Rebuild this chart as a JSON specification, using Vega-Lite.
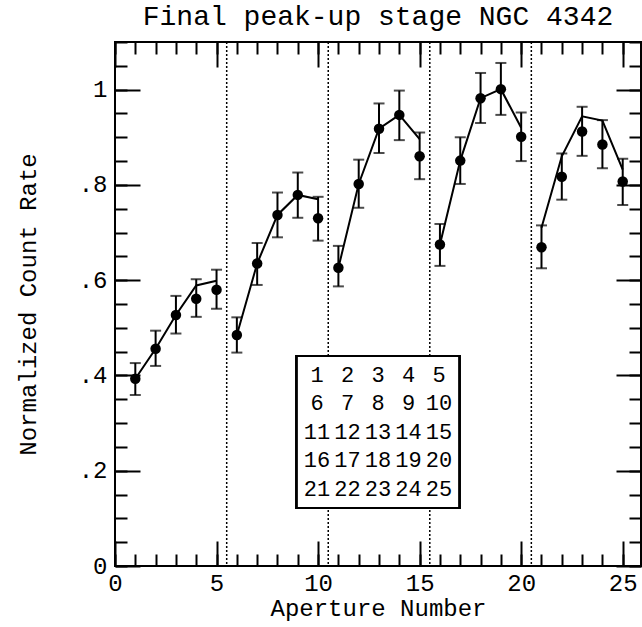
{
  "$schema": "https://vega.github.io/schema/vega-lite/v6.json",
  "width": 526,
  "height": 524,
  "autosize": "none",
  "padding": {"left": 115, "top": 42, "right": 1, "bottom": 61},
  "background": "white",
  "title": {
    "text": "Final peak-up stage NGC 4342",
    "font": "Liberation Mono",
    "fontSize": 28,
    "fontWeight": "normal",
    "color": "black",
    "anchor": "middle",
    "offset": 10
  },
  "config": {
    "view": {"stroke": "black", "strokeWidth": 2},
    "axis": {
      "grid": false,
      "domain": false,
      "labelFont": "Liberation Mono",
      "labelFontSize": 24,
      "labelFontWeight": "normal",
      "labelColor": "black",
      "titleFont": "Liberation Mono",
      "titleFontSize": 24,
      "titleFontWeight": "normal",
      "titleColor": "black",
      "tickColor": "black",
      "tickWidth": 2,
      "labelOverlap": false,
      "labelFlush": false
    }
  },
  "datasets": {
    "pts": [
      {"ap": 1, "rate": 0.393, "lo": 0.359, "hi": 0.426, "model": 0.393, "grp": 1},
      {"ap": 2, "rate": 0.456, "lo": 0.420, "hi": 0.494, "model": 0.456, "grp": 1},
      {"ap": 3, "rate": 0.527, "lo": 0.488, "hi": 0.567, "model": 0.527, "grp": 1},
      {"ap": 4, "rate": 0.561, "lo": 0.523, "hi": 0.602, "model": 0.589, "grp": 1},
      {"ap": 5, "rate": 0.580, "lo": 0.540, "hi": 0.622, "model": 0.599, "grp": 1},
      {"ap": 6, "rate": 0.485, "lo": 0.448, "hi": 0.522, "model": 0.485, "grp": 2},
      {"ap": 7, "rate": 0.635, "lo": 0.590, "hi": 0.678, "model": 0.635, "grp": 2},
      {"ap": 8, "rate": 0.737, "lo": 0.690, "hi": 0.784, "model": 0.737, "grp": 2},
      {"ap": 9, "rate": 0.779, "lo": 0.731, "hi": 0.826, "model": 0.779, "grp": 2},
      {"ap": 10, "rate": 0.730, "lo": 0.683, "hi": 0.775, "model": 0.770, "grp": 2},
      {"ap": 11, "rate": 0.626, "lo": 0.587, "hi": 0.672, "model": 0.626, "grp": 3},
      {"ap": 12, "rate": 0.802, "lo": 0.752, "hi": 0.853, "model": 0.802, "grp": 3},
      {"ap": 13, "rate": 0.918, "lo": 0.867, "hi": 0.971, "model": 0.918, "grp": 3},
      {"ap": 14, "rate": 0.947, "lo": 0.894, "hi": 0.998, "model": 0.947, "grp": 3},
      {"ap": 15, "rate": 0.860, "lo": 0.812, "hi": 0.910, "model": 0.896, "grp": 3},
      {"ap": 16, "rate": 0.675, "lo": 0.630, "hi": 0.718, "model": 0.675, "grp": 4},
      {"ap": 17, "rate": 0.851, "lo": 0.802, "hi": 0.900, "model": 0.851, "grp": 4},
      {"ap": 18, "rate": 0.982, "lo": 0.930, "hi": 1.035, "model": 0.982, "grp": 4},
      {"ap": 19, "rate": 1.001, "lo": 0.947, "hi": 1.056, "model": 1.001, "grp": 4},
      {"ap": 20, "rate": 0.901, "lo": 0.850, "hi": 0.952, "model": 0.920, "grp": 4},
      {"ap": 21, "rate": 0.669, "lo": 0.625, "hi": 0.715, "model": 0.710, "grp": 5},
      {"ap": 22, "rate": 0.817, "lo": 0.769, "hi": 0.866, "model": 0.860, "grp": 5},
      {"ap": 23, "rate": 0.912, "lo": 0.861, "hi": 0.964, "model": 0.944, "grp": 5},
      {"ap": 24, "rate": 0.885, "lo": 0.835, "hi": 0.936, "model": 0.935, "grp": 5},
      {"ap": 25, "rate": 0.807, "lo": 0.758, "hi": 0.855, "model": 0.832, "grp": 5}
    ],
    "bounds": [{"b": 5.5}, {"b": 10.5}, {"b": 15.5}, {"b": 20.5}],
    "grid": [
      {"n": "1", "col": 1, "row": 1}, {"n": "2", "col": 2, "row": 1}, {"n": "3", "col": 3, "row": 1}, {"n": "4", "col": 4, "row": 1}, {"n": "5", "col": 5, "row": 1},
      {"n": "6", "col": 1, "row": 2}, {"n": "7", "col": 2, "row": 2}, {"n": "8", "col": 3, "row": 2}, {"n": "9", "col": 4, "row": 2}, {"n": "10", "col": 5, "row": 2},
      {"n": "11", "col": 1, "row": 3}, {"n": "12", "col": 2, "row": 3}, {"n": "13", "col": 3, "row": 3}, {"n": "14", "col": 4, "row": 3}, {"n": "15", "col": 5, "row": 3},
      {"n": "16", "col": 1, "row": 4}, {"n": "17", "col": 2, "row": 4}, {"n": "18", "col": 3, "row": 4}, {"n": "19", "col": 4, "row": 4}, {"n": "20", "col": 5, "row": 4},
      {"n": "21", "col": 1, "row": 5}, {"n": "22", "col": 2, "row": 5}, {"n": "23", "col": 3, "row": 5}, {"n": "24", "col": 4, "row": 5}, {"n": "25", "col": 5, "row": 5}
    ]
  },
  "layer": [
    {
      "layer": [
        {
          "data": {"name": "bounds"},
          "mark": {"type": "rule", "color": "black", "strokeWidth": 1.5, "strokeDash": [2, 2]},
          "encoding": {
            "x": {"field": "b", "type": "quantitative", "scale": {"domain": [0, 25.9], "nice": false, "zero": false}, "axis": null}
          }
        },
        {
          "data": {"name": "pts"},
          "mark": {"type": "rule", "color": "black", "strokeWidth": 2},
          "encoding": {
            "x": {"field": "ap", "type": "quantitative", "scale": {"domain": [0, 25.9], "nice": false, "zero": false},
              "axis": {"orient": "bottom", "values": [0, 5, 10, 15, 20, 25], "ticks": false, "labelPadding": 5, "title": "Aperture Number", "titlePadding": 1}},
            "y": {"field": "lo", "type": "quantitative", "scale": {"domain": [0, 1.1], "nice": false, "zero": false},
              "axis": {"orient": "left", "values": [0, 0.2, 0.4, 0.6, 0.8, 1], "ticks": false, "labelPadding": 8,
                "labelExpr": "datum.value == 0 ? '0' : datum.value == 1 ? '1' : replace(format(datum.value, '.1f'), '0.', '.')",
                "title": "Normalized Count Rate", "titlePadding": 38}},
            "y2": {"field": "hi"}
          }
        },
        {
          "data": {"name": "pts"},
          "mark": {"type": "tick", "orient": "horizontal", "color": "black", "size": 11, "thickness": 2},
          "encoding": {
            "x": {"field": "ap", "type": "quantitative", "scale": {"domain": [0, 25.9], "nice": false, "zero": false},
              "axis": {"orient": "bottom", "values": [0, 5, 10, 15, 20, 25], "tickSize": -25, "labels": false, "title": null}},
            "y": {"field": "lo", "type": "quantitative", "scale": {"domain": [0, 1.1], "nice": false, "zero": false},
              "axis": {"orient": "left", "values": [0, 0.2, 0.4, 0.6, 0.8, 1], "tickSize": -25, "labels": false, "title": null}}
          }
        },
        {
          "data": {"name": "pts"},
          "mark": {"type": "tick", "orient": "horizontal", "color": "black", "size": 11, "thickness": 2},
          "encoding": {
            "x": {"field": "ap", "type": "quantitative", "scale": {"domain": [0, 25.9], "nice": false, "zero": false},
              "axis": {"orient": "bottom", "values": [0, 1, 2, 3, 4, 5, 6, 7, 8, 9, 10, 11, 12, 13, 14, 15, 16, 17, 18, 19, 20, 21, 22, 23, 24, 25], "tickSize": -12, "labels": false, "title": null}},
            "y": {"field": "hi", "type": "quantitative", "scale": {"domain": [0, 1.1], "nice": false, "zero": false},
              "axis": {"orient": "left", "values": [0, 0.05, 0.1, 0.15, 0.2, 0.25, 0.3, 0.35, 0.4, 0.45, 0.5, 0.55, 0.6, 0.65, 0.7, 0.75, 0.8, 0.85, 0.9, 0.95, 1, 1.05, 1.1], "tickSize": -12, "labels": false, "title": null}}
          }
        },
        {
          "data": {"name": "pts"},
          "mark": {"type": "line", "color": "black", "strokeWidth": 2},
          "encoding": {
            "x": {"field": "ap", "type": "quantitative", "scale": {"domain": [0, 25.9], "nice": false, "zero": false},
              "axis": {"orient": "top", "values": [0, 5, 10, 15, 20, 25], "tickSize": -25, "labels": false, "title": null}},
            "y": {"field": "model", "type": "quantitative", "scale": {"domain": [0, 1.1], "nice": false, "zero": false},
              "axis": {"orient": "right", "values": [0, 0.2, 0.4, 0.6, 0.8, 1], "tickSize": -25, "labels": false, "title": null}},
            "detail": {"field": "grp", "type": "nominal"}
          }
        },
        {
          "data": {"name": "pts"},
          "mark": {"type": "point", "filled": true, "color": "black", "size": 110, "opacity": 1},
          "encoding": {
            "x": {"field": "ap", "type": "quantitative", "scale": {"domain": [0, 25.9], "nice": false, "zero": false},
              "axis": {"orient": "top", "values": [0, 1, 2, 3, 4, 5, 6, 7, 8, 9, 10, 11, 12, 13, 14, 15, 16, 17, 18, 19, 20, 21, 22, 23, 24, 25], "tickSize": -12, "labels": false, "title": null}},
            "y": {"field": "rate", "type": "quantitative", "scale": {"domain": [0, 1.1], "nice": false, "zero": false},
              "axis": {"orient": "right", "values": [0, 0.05, 0.1, 0.15, 0.2, 0.25, 0.3, 0.35, 0.4, 0.45, 0.5, 0.55, 0.6, 0.65, 0.7, 0.75, 0.8, 0.85, 0.9, 0.95, 1, 1.05, 1.1], "tickSize": -12, "labels": false, "title": null}}
          }
        }
      ],
      "resolve": {"axis": {"x": "independent", "y": "independent"}}
    },
    {
      "data": {"name": "grid"},
      "layer": [
        {
          "mark": {"type": "rect", "fill": "white", "stroke": "black", "strokeWidth": 2},
          "encoding": {
            "x": {"datum": 0.34, "type": "quantitative", "scale": {"domain": [-5.623, 11.623], "nice": false, "zero": false}, "axis": null},
            "x2": {"datum": 5.66},
            "y": {"datum": 0.33, "type": "quantitative", "scale": {"domain": [-10.684, 7.702], "nice": false, "zero": false, "reverse": true}, "axis": null},
            "y2": {"datum": 5.67}
          }
        },
        {
          "mark": {"type": "text", "font": "Liberation Mono", "fontSize": 22, "fontWeight": "normal", "color": "black", "align": "center", "baseline": "middle"},
          "encoding": {
            "x": {"field": "col", "type": "quantitative", "scale": {"domain": [-5.623, 11.623], "nice": false, "zero": false}, "axis": null},
            "y": {"field": "row", "type": "quantitative", "scale": {"domain": [-10.684, 7.702], "nice": false, "zero": false, "reverse": true}, "axis": null},
            "text": {"field": "n"}
          }
        }
      ]
    }
  ],
  "resolve": {"scale": {"x": "independent", "y": "independent"}, "axis": {"x": "independent", "y": "independent"}}
}
